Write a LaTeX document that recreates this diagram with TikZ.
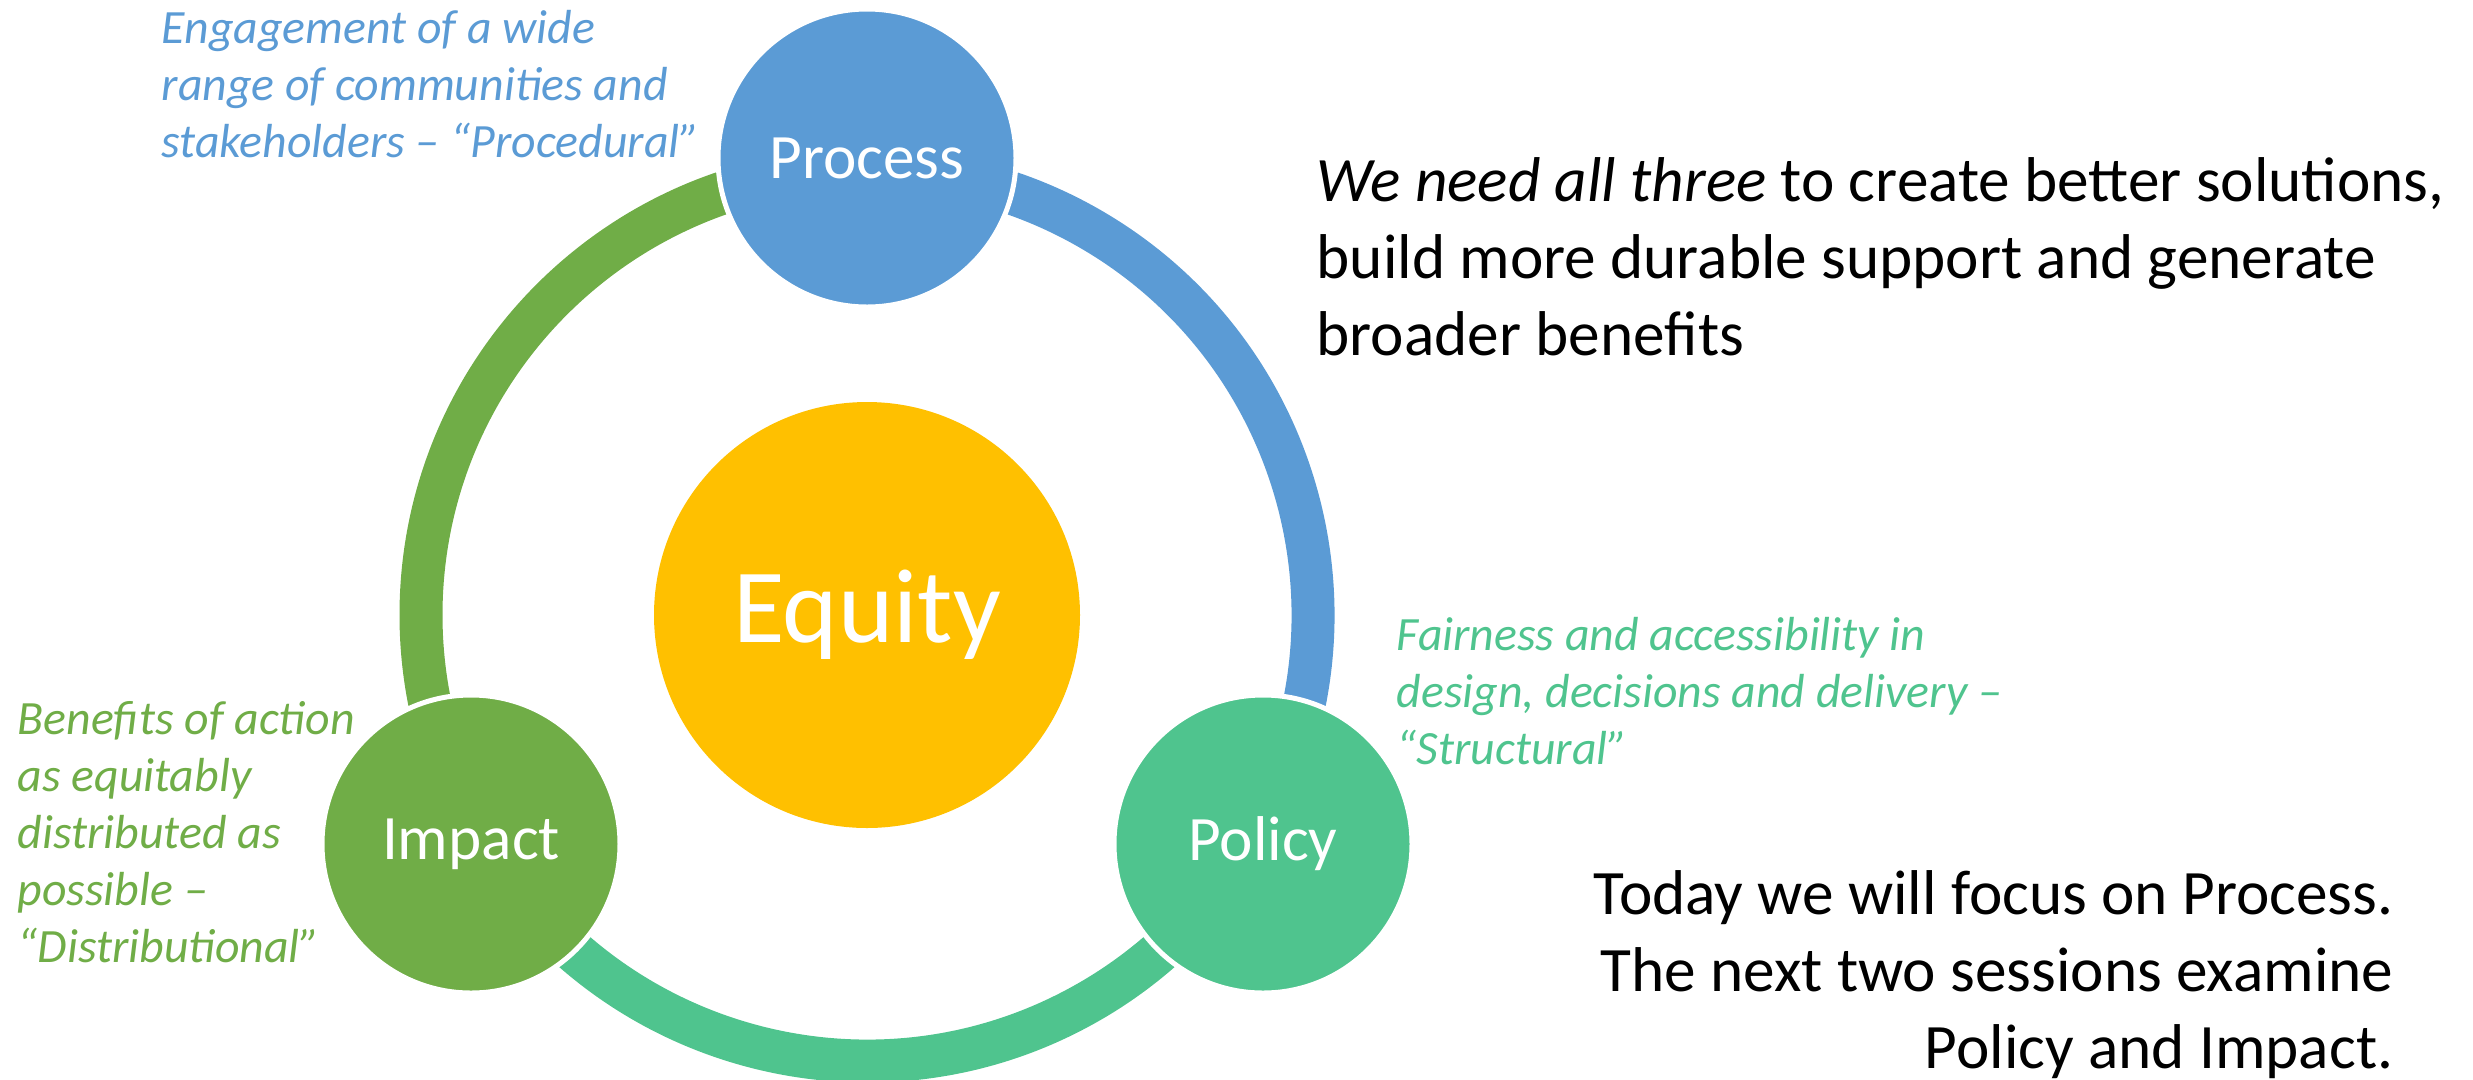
\documentclass[tikz,border=0pt]{standalone}
\usepackage{fontspec}
\setmainfont{Carlito}
\definecolor{procblue}{HTML}{5B9BD5}
\definecolor{impgreen}{HTML}{70AD47}
\definecolor{polteal}{HTML}{4FC48E}
\definecolor{eqgold}{HTML}{FFC000}
\tikzset{
	bubble/.style={circle, minimum size=2.98cm, inner sep=0pt, draw=white, line width=0.05cm, text=white, font=\fontsize{18}{22}\selectfont},
	ringarc/.style={line width=0.43cm},
	note/.style={align=left, anchor=base west, inner sep=0pt, font=\itshape\fontsize{13.6}{16.2}\selectfont},
	remark/.style={inner sep=0pt, font=\fontsize{18}{21.8}\selectfont}
}
\begin{document}
\begin{tikzpicture}
			\useasboundingbox (0,0) rectangle (24.73,-10.79);
			\node[circle, fill=eqgold, minimum size=4.26cm, inner sep=0pt, text=white, font=\fontsize{30}{36}\selectfont] (equity) at (8.67,-6.15) {Equity};
			\draw[ringarc, impgreen] ([shift={(90:4.46)}]equity.center) arc[start angle=90, end angle=210, radius=4.46];
			\draw[ringarc, procblue] ([shift={(-30:4.46)}]equity.center) arc[start angle=-30, end angle=90, radius=4.46];
			\draw[ringarc, polteal] ([shift={(210:4.46)}]equity.center) arc[start angle=210, end angle=330, radius=4.46];
			\node[bubble, fill=procblue] (process) at (8.67,-1.58) {Process};
			\node[bubble, fill=polteal] (policy) at (12.63,-8.44) {Policy};
			\node[bubble, fill=impgreen] (impact) at (4.71,-8.44) {Impact};
			\node[note, text=procblue] (procnote) at (1.61,-1.57) {Engagement of a wide\\range of communities and\\stakeholders – “Procedural”};
			\node[note, text=impgreen] (impnote) at (0.17,-9.62) {Benefits of action\\as equitably\\distributed as\\possible –\\“Distributional”};
			\node[note, text=polteal] (polnote) at (13.96,-7.64) {Fairness and accessibility in\\design, decisions and delivery –\\“Structural”};
			\node[remark, align=left, anchor=base west] (allthree) at (13.16,-3.55) {\textit{We need all three} to create better solutions,\\build more durable support and generate\\broader benefits};
			\node[remark, align=right, anchor=base east] (today) at (23.94,-10.68) {Today we will focus on Process.\\The next two sessions examine\\Policy and Impact.};
		\end{tikzpicture}
\end{document}
